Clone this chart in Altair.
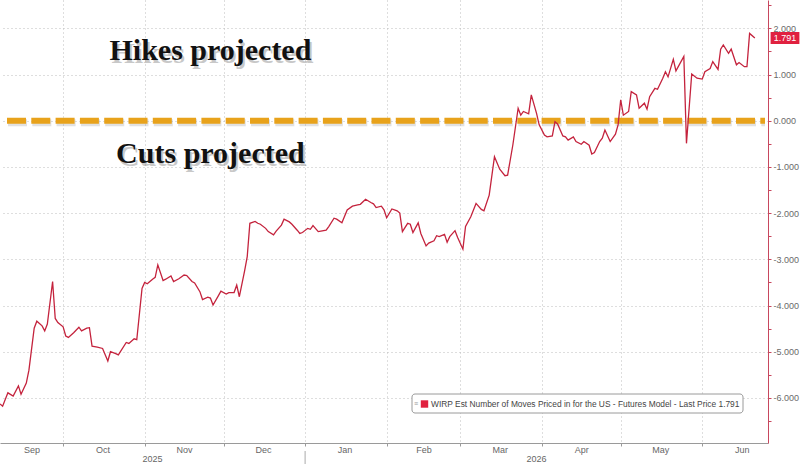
import altair as alt
import pandas as pd

# ---------------- data ----------------
dates = [
"2025-09-07","2025-09-08","2025-09-10","2025-09-12","2025-09-14","2025-09-15","2025-09-17","2025-09-18","2025-09-20","2025-09-21",
"2025-09-23","2025-09-24","2025-09-25","2025-09-27","2025-09-28","2025-09-29","2025-10-01","2025-10-02","2025-10-03","2025-10-05",
"2025-10-07","2025-10-08","2025-10-10","2025-10-11","2025-10-12","2025-10-14","2025-10-16","2025-10-18","2025-10-19","2025-10-21",
"2025-10-22","2025-10-25","2025-10-26","2025-10-28","2025-10-29","2025-10-31","2025-11-01","2025-11-02","2025-11-04","2025-11-05",
"2025-11-06","2025-11-08","2025-11-09","2025-11-11","2025-11-12","2025-11-14","2025-11-16","2025-11-17","2025-11-19","2025-11-20",
"2025-11-22","2025-11-23","2025-11-25","2025-11-26","2025-11-27","2025-11-29","2025-11-30","2025-12-02","2025-12-03","2025-12-05",
"2025-12-06","2025-12-07","2025-12-09","2025-12-10","2025-12-11","2025-12-13","2025-12-14","2025-12-15","2025-12-17","2025-12-18",
"2025-12-20","2025-12-21","2025-12-23","2025-12-24","2025-12-26","2025-12-27","2025-12-29","2025-12-30","2025-12-31","2026-01-02",
"2026-01-03","2026-01-04","2026-01-06","2026-01-07","2026-01-09","2026-01-10","2026-01-12","2026-01-13","2026-01-15","2026-01-17",
"2026-01-19","2026-01-21","2026-01-22","2026-01-24","2026-01-26","2026-01-27","2026-01-28","2026-01-30","2026-01-31","2026-02-01",
"2026-02-03","2026-02-05","2026-02-06","2026-02-07","2026-02-09","2026-02-10","2026-02-11","2026-02-13","2026-02-14","2026-02-16",
"2026-02-17","2026-02-19","2026-02-20","2026-02-21","2026-02-23","2026-02-24","2026-02-25","2026-02-27","2026-02-28","2026-03-02",
"2026-03-03","2026-03-05","2026-03-07","2026-03-09","2026-03-10","2026-03-12","2026-03-14","2026-03-16","2026-03-18","2026-03-19",
"2026-03-21","2026-03-23","2026-03-24","2026-03-25","2026-03-27","2026-03-28","2026-03-30","2026-03-31","2026-04-02","2026-04-03",
"2026-04-05","2026-04-06","2026-04-07","2026-04-09","2026-04-10","2026-04-11","2026-04-13","2026-04-14","2026-04-16","2026-04-17",
"2026-04-19","2026-04-20","2026-04-21","2026-04-23","2026-04-24","2026-04-25","2026-04-27","2026-04-29","2026-04-30","2026-05-01",
"2026-05-02","2026-05-04","2026-05-05","2026-05-07","2026-05-08","2026-05-10","2026-05-11","2026-05-12","2026-05-14","2026-05-15",
"2026-05-17","2026-05-18","2026-05-19","2026-05-21","2026-05-22","2026-05-25","2026-05-26","2026-05-28","2026-05-30","2026-06-01",
"2026-06-02","2026-06-04","2026-06-05","2026-06-07","2026-06-08","2026-06-09","2026-06-11","2026-06-12","2026-06-14","2026-06-15",
"2026-06-17","2026-06-18","2026-06-19","2026-06-21",
]
values = [
-6.13,-6.18,-5.89,-5.96,-5.74,-5.92,-5.68,-5.40,-4.49,-4.34,
-4.44,-4.55,-4.40,-3.48,-4.28,-4.37,-4.46,-4.66,-4.69,-4.59,
-4.47,-4.55,-4.49,-4.48,-4.88,-4.90,-4.93,-5.20,-5.00,-5.04,
-5.07,-4.80,-4.82,-4.72,-4.74,-3.63,-3.50,-3.53,-3.43,-3.39,
-3.12,-3.46,-3.43,-3.36,-3.48,-3.42,-3.34,-3.35,-3.48,-3.51,
-3.70,-3.87,-3.82,-3.84,-3.99,-3.79,-3.69,-3.75,-3.72,-3.72,
-3.56,-3.81,-3.25,-2.94,-2.22,-2.18,-2.22,-2.24,-2.33,-2.40,
-2.47,-2.39,-2.26,-2.13,-2.19,-2.24,-2.37,-2.44,-2.42,-2.33,
-2.35,-2.27,-2.40,-2.39,-2.37,-2.29,-2.11,-2.13,-2.21,-1.93,
-1.85,-1.82,-1.81,-1.70,-1.77,-1.80,-1.88,-1.85,-1.93,-2.10,
-1.91,-1.95,-2.00,-2.40,-2.22,-2.24,-2.42,-2.21,-2.44,-2.71,
-2.65,-2.60,-2.49,-2.51,-2.46,-2.63,-2.51,-2.38,-2.53,-2.78,
-2.29,-2.08,-1.79,-1.92,-1.95,-1.61,-0.78,-1.05,-1.19,-1.18,
-0.52,0.27,0.12,0.20,0.15,0.56,0.16,-0.09,-0.31,-0.35,
-0.33,-0.02,-0.07,-0.33,-0.35,-0.42,-0.35,-0.45,-0.51,-0.45,
-0.53,-0.72,-0.69,-0.45,-0.38,-0.20,-0.45,-0.29,-0.09,0.45,
0.12,0.20,0.63,0.56,0.27,0.38,0.25,0.52,0.70,0.68,
0.92,1.06,0.95,1.33,1.08,1.39,-0.49,1.01,0.92,0.90,
1.06,1.13,1.28,1.11,1.55,1.64,1.46,1.55,1.21,1.26,
1.17,1.17,1.89,1.79,
]
last_price = 1.791

month_starts = ["2025-10-01","2025-11-01","2025-12-01","2026-01-01","2026-02-01",
                "2026-03-01","2026-04-01","2026-05-01","2026-06-01"]
month_label_dates = ["2025-09-19","2025-10-16","2025-11-16","2025-12-16","2026-01-16",
                     "2026-02-15","2026-03-16","2026-04-16","2026-05-16","2026-06-16"]
year_labels = ["2025", "2026"]
year_label_dates = ["2025-11-04", "2026-03-30"]
year_break = ["2026-01-01"]

y_ticks = [-6.5,-6,-5.5,-5,-4.5,-4,-3.5,-3,-2.5,-2,-1.5,-1,-0.5,0,0.5,1,1.5,2,2.5]
y_domain = [-6.976, 2.613]
x_domain = ["2025-09-07", "2026-06-26"]

annot_texts = ["Hikes projected", "Cuts projected"]
annot_dates = ["2025-11-26", "2025-11-26"]
annot_values = [1.31, -0.92]

legend_label = "WIRP Est Number of Moves Priced in for the US - Futures Model - Last Price 1.791"

LINE = "#C4233D"
ORANGE = "#E8A21B"
GRID = "#BDBDBD"

def dt(s):
    y, m, d = (int(p) for p in s.split("-"))
    return alt.DateTime(year=y, month=m, date=d)

x_scale = alt.Scale(domain=[dt(s) for s in x_domain])
y_scale = alt.Scale(domain=y_domain, nice=False, zero=False)

x_axis = alt.Axis(
    values=[dt(s) for s in month_starts + month_label_dates],
    labelExpr="date(datum.value) == 1 ? '' : timeFormat(datum.value, '%b')",
    gridOpacity={"condition": {"test": "date(datum.value) == 1", "value": 1}, "value": 0},
    tickOpacity={"condition": {"test": "date(datum.value) == 1", "value": 1}, "value": 0},
    gridColor=GRID, gridDash=[1, 3], gridWidth=1,
    domainColor="#9a9a9a", tickColor="#9a9a9a", tickSize=3,
    labelFont="Liberation Sans", labelFontSize=9, labelColor="#666666",
    labelPadding=-1, labelOverlap=False, labelFlush=False, labelBound=False,
    title=None,
)
y_axis = alt.Axis(
    orient="right",
    values=y_ticks,
    labelExpr="datum.value % 1 == 0 ? replace(format(datum.value, '.3f'), '\u2212', '-') : ''",
    gridOpacity={"condition": {"test": "datum.value % 1 == 0", "value": 1}, "value": 0},
    gridColor=GRID, gridDash=[1, 3], gridWidth=1,
    domainColor="#C8475E", tickColor="#C8475E", tickSize=3,
    labelFont="Liberation Sans", labelFontSize=9, labelColor="#6a6a6a",
    labelPadding=2, labelAlign="left", labelOverlap=False, labelBound=False,
    title=None,
)

def X(field):
    return alt.X(field, scale=x_scale, axis=x_axis)

def Y(field):
    return alt.Y(field, scale=y_scale, axis=y_axis)

df = pd.DataFrame({"date": pd.to_datetime(dates), "value": values})
line = alt.Chart(df).mark_line(color=LINE, strokeWidth=1.3, clip=True).encode(
    x=X("date:T"), y=Y("value:Q"),
)

zero_df = pd.DataFrame({"value": [0.0]})
zero_shadow = alt.Chart(zero_df).mark_rule(
    color="#888888", opacity=0.25, strokeWidth=7, strokeDash=[19, 5.3], yOffset=2, xOffset=1
).encode(y=Y("value:Q"), x=alt.value(7), x2=alt.value(765))
zero_line = alt.Chart(zero_df).mark_rule(
    color=ORANGE, strokeWidth=6, strokeDash=[19, 5.3]
).encode(y=Y("value:Q"), x=alt.value(7), x2=alt.value(765))

annot_df = pd.DataFrame({"date": pd.to_datetime(annot_dates), "value": annot_values, "text": annot_texts})
annot_shadow = alt.Chart(annot_df).mark_text(
    font="Liberation Serif", fontSize=30, fontWeight="bold", color="#777777", opacity=0.4,
    baseline="alphabetic", align="center", dx=2, dy=3
).encode(x=X("date:T"), y=Y("value:Q"), text="text:N")
annot = alt.Chart(annot_df).mark_text(
    font="Liberation Serif", fontSize=30, fontWeight="bold", color="#111111",
    baseline="alphabetic", align="center"
).encode(x=X("date:T"), y=Y("value:Q"), text="text:N")

tag_df = pd.DataFrame({"value": [last_price], "text": [f"{last_price:.3f}"]})
tag_box = alt.Chart(tag_df).mark_point(
    shape="M-1.2,-0.5L1.2,-0.5L1.2,0.5L-1.2,0.5Z", filled=True, color="#E0213F", opacity=1, size=576
).encode(x=alt.value(785), y=Y("value:Q"))
tag_text = alt.Chart(tag_df).mark_text(
    font="Liberation Sans", fontSize=9, color="white", align="center", baseline="middle"
).encode(x=alt.value(785), y=Y("value:Q"), text="text:N")

one = pd.DataFrame({"a": [0]})
legend_box = alt.Chart(one).mark_rect(
    fill="white", stroke="#9a9a9a", strokeWidth=1, cornerRadius=3
).encode(x=alt.value(412), x2=alt.value(743), y=alt.value(394), y2=alt.value(413))
legend_icon = alt.Chart(one).mark_text(
    text="\u2261", font="Liberation Sans", fontSize=7, color="#999999", align="center", baseline="middle"
).encode(x=alt.value(416), y=alt.value(404))
legend_swatch = alt.Chart(one).mark_point(
    shape="square", filled=True, color="#E0213F", opacity=1, size=55
).encode(x=alt.value(424.5), y=alt.value(404))
legend_text = alt.Chart(pd.DataFrame({"t": [legend_label]})).mark_text(
    font="Liberation Sans", fontSize=8.4, color="#444444", align="left", baseline="middle"
).encode(x=alt.value(431), y=alt.value(404), text="t:N")

year_df = pd.DataFrame({"date": pd.to_datetime(year_label_dates), "text": year_labels})
years = alt.Chart(year_df).mark_text(
    font="Liberation Sans", fontSize=9, color="#666666", align="center", baseline="middle"
).encode(x=X("date:T"), y=alt.value(459), text="text:N")
ybreak = alt.Chart(pd.DataFrame({"date": pd.to_datetime(year_break)})).mark_rule(
    color="#aaaaaa", strokeWidth=1
).encode(x=X("date:T"), y=alt.value(451), y2=alt.value(464))

chart = alt.layer(
    zero_shadow, zero_line, line,
    annot_shadow, annot, tag_box, tag_text,
    legend_box, legend_icon, legend_swatch, legend_text,
    years, ybreak,
).properties(
    width=768, height=443,
    padding={"left": 0, "top": 0, "right": 32, "bottom": 22},
    autosize="none",
    background="white",
).configure_view(stroke=None)

chart.save("out.html", embed_options={"renderer": "svg", "actions": False})
